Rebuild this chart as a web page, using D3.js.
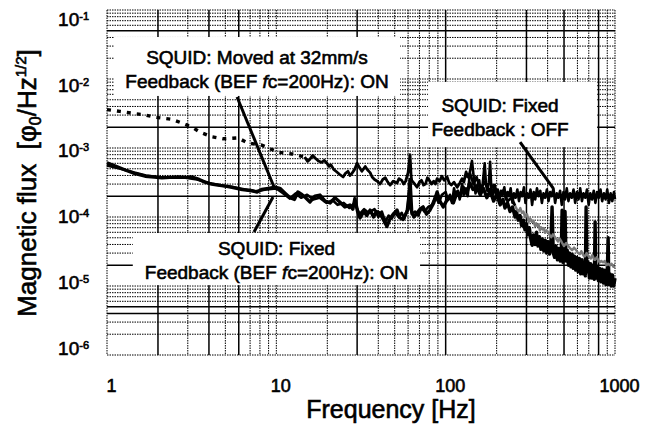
<!DOCTYPE html>
<html>
<head>
<meta charset="utf-8">
<script src="https://d3js.org/d3.v7.min.js"></script>
<style>
  body { margin: 0; background: #fff; }
  svg { display: block; font-family: Arial, "Liberation Sans", sans-serif; }
  text { fill: #000; stroke: #000; stroke-width: 0.6px; }
</style>
</head>
<body>
<svg id="chart"></svg>
<script>
const width = 653;
const height = 424;
const margin = {top: 10, right: 38, bottom: 69, left: 107};

const xTickLabels = [1, 10, 100, 1000];
const yTickExps = [-1, -2, -3, -4, -5, -6];

// grid lines that are printed solid in the figure (the rest are dotted)
const xSolidGrid = [2, 4, 6, 30, 100, 300, 500, 800];
const ySolidGrid = [5e-2, 2e-3, 2e-4, 2e-5, 5e-6, 4e-6];

// [frequency Hz, flux phi0/Hz^1/2]
const moved = [
  [1, 3.6e-3], [1.19, 3.4e-3], [1.4, 3.2e-3], [1.68, 3.0e-3], [1.92, 2.8e-3], [2.42, 2.6e-3],
  [2.77, 2.3e-3], [3.18, 2.0e-3], [3.54, 1.7e-3], [4.17, 1.45e-3], [4.84, 1.36e-3], [5.94, 1.4e-3],
  [6.79, 1.18e-3], [8.2, 1.1e-3], [10.2, 8.7e-4], [12.4, 8.2e-4], [14.7, 7.4e-4],
  [15.3, 6.4e-4], [15.8, 6.9e-4], [16.4, 7.8e-4], [17, 7.1e-4], [17.7, 6.5e-4], [18.5, 6.2e-4],
  [19.2, 6.6e-4], [19.9, 6.0e-4], [20.5, 5.4e-4], [21, 5.7e-4], [21.8, 4.9e-4], [22.5, 4.6e-4],
  [23.5, 4.2e-4], [24.8, 3.8e-4], [25.6, 4.3e-4], [26.5, 4.6e-4], [27.2, 4.0e-4], [28, 4.3e-4],
  [29, 4.9e-4], [30, 6e-4], [31, 5.2e-4], [32, 4.6e-4], [32.8, 5.0e-4], [33.5, 5.4e-4],
  [34.6, 4.8e-4], [35.8, 4.4e-4], [36.8, 3.8e-4], [38, 3.5e-4], [39.5, 3.3e-4], [41, 3.0e-4],
  [42.5, 3.5e-4], [44, 3.7e-4], [45.5, 3.2e-4], [47, 2.9e-4], [49, 3.3e-4], [51.6, 3.1e-4],
  [53, 3.6e-4], [55, 3.4e-4], [56.5, 3.0e-4], [58, 3.3e-4], [59.2, 3.9e-4], [60, 4.4e-4],
  [61.6, 8e-4], [62.5, 4.0e-4], [63, 3.4e-4], [65, 3.1e-4], [67.8, 2.7e-4], [70, 3.2e-4],
  [72, 3.4e-4], [74, 2.9e-4], [76, 3.0e-4], [78, 3.7e-4], [80, 3.4e-4], [82.5, 3.0e-4],
  [85, 3.3e-4], [87, 3.0e-4], [89, 3.6e-4], [92, 3.3e-4], [95, 3.9e-4], [98, 3.4e-4],
  [102, 3.8e-4], [105, 3.1e-4], [108, 2.9e-4], [112, 3.2e-4], [117, 2.7e-4], [121, 3.1e-4],
  [125, 3.6e-4], [128, 3.2e-4], [132, 4.5e-4], [135, 3.8e-4], [139, 4.3e-4],
  [146, 3.0e-4], [152, 3.8e-4], [160, 2.6e-4], [170, 3.2e-4], [180, 2.4e-4], [192, 2.9e-4],
  [205, 2.0e-4], [218, 2.4e-4], [232, 1.7e-4], [245, 1.9e-4], [257, 1.45e-4], [263, 1.3e-4],
  [270, 1.2e-4], [276, 1.35e-4], [282, 1.15e-4], [288, 1.2e-4], [294, 1.0e-4], [302, 1.1e-4],
  [310, 8.5e-5], [316, 9.5e-5], [323, 8.5e-5], [330, 8.8e-5], [337, 7.4e-5], [343, 8.1e-5],
  [348, 7.4e-5], [354, 7.7e-5], [360, 6.4e-5], [366, 7.1e-5], [373, 6.6e-5], [380, 6.9e-5],
  [387, 5.9e-5], [395, 6.4e-5], [403, 6.0e-5], [411, 5.5e-5], [420, 5.1e-5], [430, 5.6e-5],
  [440, 5.2e-5], [450, 4.8e-5], [461, 4.4e-5], [470, 4.9e-5], [480, 4.5e-5], [490, 4.1e-5],
  [500, 3.8e-5], [515, 4.2e-5], [530, 3.8e-5], [544, 3.5e-5], [558, 3.3e-5], [574, 3.6e-5],
  [590, 3.3e-5], [605, 3.0e-5], [620, 2.9e-5], [632, 3.2e-5], [645, 2.9e-5], [655, 2.7e-5],
  [666, 2.7e-5], [680, 3.0e-5], [692, 2.8e-5], [705, 2.6e-5], [720, 2.5e-5], [733, 2.8e-5],
  [745, 2.6e-5], [755, 2.4e-5], [763, 2.4e-5], [780, 2.6e-5], [795, 2.4e-5], [812, 2.2e-5],
  [830, 2.3e-5], [850, 2.2e-5], [870, 2.3e-5], [890, 2.0e-5], [911, 2.1e-5], [933, 2.0e-5],
  [955, 2.1e-5], [977, 1.9e-5], [1000, 1.9e-5]
];

const fixedOn = [
  [1, 6.1e-4], [1.14, 5.4e-4], [1.28, 4.8e-4], [1.45, 4.3e-4], [1.68, 3.9e-4], [1.9, 3.8e-4],
  [2.11, 3.7e-4], [2.35, 3.75e-4], [2.63, 3.8e-4], [2.9, 3.75e-4], [3.18, 3.8e-4], [3.5, 3.5e-4],
  [3.79, 3.2e-4], [4.15, 3.0e-4], [4.52, 2.9e-4], [5.0, 2.8e-4], [5.47, 2.7e-4], [6.3, 2.5e-4],
  [7.2, 2.4e-4], [7.7, 2.3e-4], [8.2, 2.5e-4], [9.0, 2.6e-4], [9.8, 2.7e-4], [10.5, 2.6e-4],
  [11.3, 2.2e-4], [12.05, 1.9e-4], [12.8, 1.8e-4], [13.4, 2.3e-4], [14.2, 2.1e-4], [14.9, 1.9e-4],
  [15.8, 1.65e-4], [16.9, 2.0e-4], [18.1, 2.08e-4], [19.4, 1.7e-4], [20.8, 1.6e-4], [22.2, 1.9e-4],
  [23.7, 1.65e-4], [25.4, 1.4e-4], [27.2, 1.49e-4], [28.3, 1.3e-4], [29.1, 1.85e-4], [30.2, 1.2e-4],
  [31.2, 9.7e-5], [32.8, 1.2e-4], [34.2, 1.05e-4], [35.8, 1.26e-4], [37.5, 1.0e-4], [39, 1.2e-4],
  [41, 1.14e-4], [43, 9.0e-5], [45, 7.3e-5], [47, 9.5e-5], [49, 1.1e-4], [51.6, 1.26e-4],
  [53.5, 9.8e-5], [56, 9.2e-5], [58, 1.1e-4], [60, 1.3e-4], [61.6, 3.5e-4], [63, 1.2e-4],
  [65, 1.0e-4], [67.8, 1.14e-4], [70.5, 1.3e-4], [73.6, 1.4e-4], [77, 1.1e-4], [80.8, 1.26e-4],
  [85, 1.6e-4], [89, 2.3e-4], [92.5, 1.7e-4], [96.7, 1.4e-4], [101, 1.7e-4], [106, 1.93e-4],
  [111, 1.6e-4], [117, 2.3e-4], [122, 2.0e-4], [127, 2.7e-4], [133, 2.2e-4], [139, 3.1e-4],
  [145, 2.5e-4], [152, 2.8e-4], [160, 2.1e-4], [167, 2.6e-4], [175, 1.9e-4], [183, 2.4e-4],
  [192, 1.7e-4], [200, 2.1e-4], [210, 1.5e-4], [218, 1.8e-4], [224, 1.35e-4], [232, 1.6e-4],
  [240, 1.2e-4], [248, 1.4e-4], [257, 1.0e-4], [262, 1.2e-4], [268, 9e-5], [275, 1.05e-4],
  [281, 7.5e-5], [288, 9e-5], [294, 6.5e-5], [300, 8e-5], [306, 5.5e-5], [312, 7e-5],
  [318, 4.8e-5], [324, 3.9e-5], [330, 5.5e-5], [337, 4.0e-5], [344, 6e-5], [351, 3.8e-5],
  [358, 5.2e-5], [365, 3.4e-5], [372, 4.8e-5], [380, 3.2e-5], [387, 4.6e-5], [395, 3.0e-5],
  [403, 4.4e-5], [411, 2.9e-5], [418, 4e-5], [425, 1.4e-4], [432, 3.0e-5], [440, 2.6e-5],
  [448, 3.8e-5], [457, 2.4e-5], [466, 3.5e-5], [475, 2.3e-5], [482, 3.2e-5], [487, 1.25e-4],
  [493, 2.2e-5], [500, 3.2e-5], [507, 1.2e-4], [514, 2.3e-5], [522, 3.3e-5], [531, 2.0e-5],
  [540, 3.0e-5], [549, 1.9e-5], [558, 2.9e-5], [567, 1.8e-5], [576, 2.7e-5], [586, 1.7e-5],
  [596, 2.6e-5], [606, 1.6e-5], [616, 2.5e-5], [627, 1.5e-5], [638, 2.4e-5], [649, 1.5e-5],
  [660, 2.2e-5], [668, 1.4e-5], [675, 1.4e-4], [682, 1.6e-5], [694, 2.2e-5], [706, 1.3e-5],
  [718, 2.1e-5], [731, 1.3e-5], [744, 2.0e-5], [755, 1.25e-5], [763, 8.5e-5], [771, 1.3e-5],
  [784, 1.9e-5], [798, 1.2e-5], [812, 1.8e-5], [826, 1.15e-5], [840, 1.75e-5], [855, 1.1e-5],
  [870, 1.7e-5], [885, 1.05e-5], [900, 1.6e-5], [911, 5e-5], [920, 1.05e-5], [935, 1.5e-5],
  [950, 1.0e-5], [966, 1.45e-5], [983, 1.0e-5], [1000, 1.3e-5]
];

const fixedOff = [
  [1, 5.6e-4], [1.2, 5.0e-4], [1.45, 4.4e-4], [1.7, 4.0e-4], [2.0, 3.8e-4], [2.4, 3.75e-4],
  [2.9, 3.7e-4], [3.4, 3.5e-4], [4.0, 3.1e-4], [4.8, 2.85e-4], [5.6, 2.7e-4], [6.5, 2.5e-4],
  [7.5, 2.35e-4], [8.7, 2.5e-4], [10, 2.6e-4], [11, 2.2e-4], [12, 1.85e-4], [13, 2.2e-4],
  [14, 1.9e-4], [15.2, 2.1e-4], [16.5, 1.8e-4], [18, 1.9e-4], [19.8, 1.6e-4], [21.5, 1.75e-4],
  [23, 1.5e-4], [25, 1.6e-4], [27, 1.35e-4], [29, 1.6e-4], [31, 1.1e-4], [33, 1.3e-4],
  [35, 1.15e-4], [38, 1.3e-4], [40, 1.0e-4], [42, 1.2e-4], [44, 8.5e-5], [46, 1.05e-4],
  [48, 9.5e-5], [50, 1.15e-4], [53, 1.0e-4], [55, 1.15e-4], [57, 9.5e-5], [59, 1.25e-4],
  [61, 2.5e-4], [63, 1.1e-4], [66, 1.2e-4], [69, 1.05e-4], [72, 1.35e-4], [75, 1.2e-4],
  [79, 1.4e-4], [83, 1.5e-4], [87, 2.0e-4], [91, 1.6e-4], [95, 2.1e-4], [100, 2.3e-4],
  [103, 1.8e-4], [106, 2.1e-4], [109, 1.6e-4], [112, 2.6e-4], [115, 2.0e-4], [118, 2.4e-4],
  [121, 1.8e-4], [125, 3.0e-4], [128, 2.1e-4], [132, 2.6e-4], [135, 2.0e-4], [139, 4.5e-4],
  [143, 6.5e-4], [147, 3.5e-4], [150, 2.2e-4], [154, 2.9e-4], [158, 3.4e-4], [161, 2.1e-4],
  [165, 2.8e-4], [170, 6.0e-4], [173, 3.0e-4], [176, 2.4e-4], [180, 3.2e-4], [183, 6.3e-4],
  [186, 2.6e-4], [190, 2.1e-4], [195, 2.9e-4], [199, 2.0e-4], [203, 2.5e-4], [208, 1.7e-4],
  [212, 2.4e-4], [217, 2.1e-4], [222, 2.7e-4], [227, 1.8e-4], [232, 2.3e-4], [237, 2.0e-4],
  [242, 2.6e-4], [248, 1.6e-4], [253, 2.2e-4], [259, 1.9e-4], [265, 2.5e-4], [271, 1.7e-4],
  [277, 2.3e-4], [283, 2.0e-4], [290, 2.7e-4], [296, 1.6e-4], [303, 2.2e-4], [310, 1.9e-4],
  [317, 2.5e-4], [324, 1.5e-4], [331, 2.3e-4], [338, 1.8e-4], [346, 2.6e-4], [354, 2.0e-4],
  [362, 2.4e-4], [370, 1.6e-4], [378, 2.2e-4], [387, 1.9e-4], [396, 2.5e-4], [405, 1.7e-4],
  [414, 2.3e-4], [423, 2.0e-4], [433, 2.6e-4], [443, 1.6e-4], [453, 2.2e-4], [463, 1.9e-4],
  [474, 2.4e-4], [485, 1.5e-4], [496, 2.3e-4], [507, 1.8e-4], [519, 2.6e-4], [531, 1.7e-4],
  [543, 2.2e-4], [556, 1.9e-4], [569, 2.5e-4], [582, 1.6e-4], [595, 2.3e-4], [609, 1.8e-4],
  [623, 2.6e-4], [638, 1.7e-4], [652, 2.2e-4], [668, 1.9e-4], [683, 2.5e-4], [699, 1.5e-4],
  [715, 2.2e-4], [732, 1.8e-4], [749, 2.4e-4], [766, 1.6e-4], [784, 2.3e-4], [802, 1.9e-4],
  [821, 2.5e-4], [840, 1.7e-4], [860, 2.2e-4], [880, 1.8e-4], [900, 2.5e-4], [921, 1.6e-4],
  [942, 2.2e-4], [964, 1.7e-4], [986, 2.3e-4], [1000, 1.8e-4]
];

// where the "moved" trace changes look in the print
const movedDottedUpTo = 14.7;
const movedGreyFrom = 257;

// annotation boxes: box = [f0, f1, top flux, bottom flux], text = first baseline, leader = [from, to]
const notes = [
  {lines: ['SQUID: Moved at 32mm/s', 'Feedback (BEF *f*c=200Hz): ON'],
   box: [1.1, 53.8, 4.06e-2, 5.68e-3], text: [7.69, 1.65e-2],
   leader: [[5.86, 5.48e-3], [9.69, 2.72e-4]]},
  {lines: ['SQUID: Fixed', 'Feedback : OFF'],
   box: [78.7, 784, 9.06e-3, 1.03e-3], text: [209.5, 3.33e-3],
   leader: [[275, 1.22e-3], [431, 2.63e-4]]},
  {lines: ['SQUID: Fixed', 'Feedback (BEF *f*c=200Hz): ON'],
   box: [1.42, 70.6, 5.86e-5, 1.03e-5], text: [10.03, 2.81e-5],
   leader: [[7.38, 6.07e-5], [9.56, 1.95e-4]]}
];

const svg = d3.select('#chart').attr('width', width).attr('height', height);

const x = d3.scaleLog().domain([1, 1000]).range([margin.left, width - margin.right]);
const y = d3.scaleLog().domain([1e-6, 1e-1]).range([height - margin.bottom, margin.top]);
// the printed exponent labels sit on a slightly tighter spacing than the grid
const yLabel = d3.scaleLog().domain([1e-6, 1e-1]).range([348, 19]);

const same = (list, d) => list.some(v => Math.abs(Math.log10(v) - Math.log10(d)) < 1e-6);

// grid
const grid = svg.append('g');
grid.selectAll('.gx').data(x.ticks()).join('line')
  .attr('x1', d => x(d)).attr('x2', d => x(d))
  .attr('y1', y(1e-1)).attr('y2', y(1e-6))
  .attr('stroke', '#000')
  .attr('stroke-width', d => same(xSolidGrid, d) ? 1.5 : 1)
  .attr('stroke-dasharray', d => same(xSolidGrid, d) ? null : '1.5,1');
grid.selectAll('.gy').data(y.ticks()).join('line')
  .attr('x1', x(1)).attr('x2', x(1000))
  .attr('y1', d => y(d)).attr('y2', d => y(d))
  .attr('stroke', '#000')
  .attr('stroke-width', d => same(ySolidGrid, d) ? 1.5 : 1)
  .attr('stroke-dasharray', d => same(ySolidGrid, d) ? null : '1.5,1');

// white label boxes over the grid
svg.append('g').selectAll('rect').data(notes).join('rect')
  .attr('x', d => x(d.box[0]))
  .attr('y', d => y(d.box[2]))
  .attr('width', d => x(d.box[1]) - x(d.box[0]))
  .attr('height', d => y(d.box[3]) - y(d.box[2]))
  .attr('fill', '#fff');

const line = d3.line().x(d => x(d[0])).y(d => y(d[1]));

svg.append('path').datum(fixedOn)
  .attr('fill', 'none').attr('stroke', '#000').attr('stroke-width', 3.4)
  .attr('stroke-linejoin', 'round').attr('d', line);

svg.append('path').datum(fixedOff)
  .attr('fill', 'none').attr('stroke', '#000').attr('stroke-width', 2.6)
  .attr('stroke-linejoin', 'round').attr('d', line);

svg.append('path').datum(moved.filter(d => d[0] <= movedDottedUpTo))
  .attr('fill', 'none').attr('stroke', '#000').attr('stroke-width', 3.4)
  .attr('stroke-dasharray', '4,6').attr('d', line);

svg.append('path').datum(moved.filter(d => d[0] >= movedDottedUpTo && d[0] <= movedGreyFrom))
  .attr('fill', 'none').attr('stroke', '#000').attr('stroke-width', 2.8)
  .attr('stroke-linejoin', 'round').attr('d', line);

svg.append('path').datum(moved.filter(d => d[0] >= movedGreyFrom))
  .attr('fill', 'none').attr('stroke', '#7a7a7a').attr('stroke-width', 2.4)
  .attr('stroke-linejoin', 'round').attr('d', line);

// leaders and annotation text
svg.append('g').selectAll('line').data(notes).join('line')
  .attr('x1', d => x(d.leader[0][0])).attr('y1', d => y(d.leader[0][1]))
  .attr('x2', d => x(d.leader[1][0])).attr('y2', d => y(d.leader[1][1]))
  .attr('stroke', '#000').attr('stroke-width', 3);

notes.forEach(n => {
  n.lines.forEach((txt, i) => {
    const t = svg.append('text')
      .attr('x', x(n.text[0]))
      .attr('y', y(n.text[1]) + i * 24)
      .attr('text-anchor', 'middle')
      .attr('font-size', 19);
    txt.split('*').forEach((part, j) => {
      t.append('tspan').text(part).attr('font-style', j % 2 ? 'italic' : null);
    });
  });
});

// x axis labels
const xAxis = svg.append('g')
  .attr('transform', `translate(4, ${height - margin.bottom})`)
  .call(d3.axisBottom(x).tickValues(xTickLabels).tickFormat(d3.format('d')).tickSize(0).tickPadding(24));
xAxis.select('.domain').remove();
xAxis.attr('font-size', 18).attr('font-family', null);

// y axis labels 10^n
const yLabels = svg.append('g').attr('font-size', 19).attr('text-anchor', 'end');
yLabels.selectAll('text').data(yTickExps).join('text')
  .attr('x', 89)
  .attr('y', d => yLabel(Math.pow(10, d)))
  .attr('dy', '0.36em')
  .each(function(d) {
    const t = d3.select(this);
    t.append('tspan').text('10');
    t.append('tspan').text('-' + Math.abs(d)).attr('font-size', 11).attr('dy', -6);
  });

// axis titles
svg.append('text')
  .attr('x', 391).attr('y', 418)
  .attr('text-anchor', 'middle').attr('font-size', 25)
  .text('Frequency [Hz]');

const yTitle = svg.append('text')
  .attr('transform', 'translate(36, 183) rotate(-90)')
  .attr('text-anchor', 'middle').attr('font-size', 26);
yTitle.append('tspan').text('Magnetic flux\u00a0\u00a0[\u03c6');
yTitle.append('tspan').text('0').attr('font-size', 16).attr('dy', 5);
yTitle.append('tspan').text('/Hz').attr('dy', -5);
yTitle.append('tspan').text('1/2').attr('font-size', 15).attr('dy', -10);
yTitle.append('tspan').text(']').attr('dy', 10);
</script>
</body>
</html>
